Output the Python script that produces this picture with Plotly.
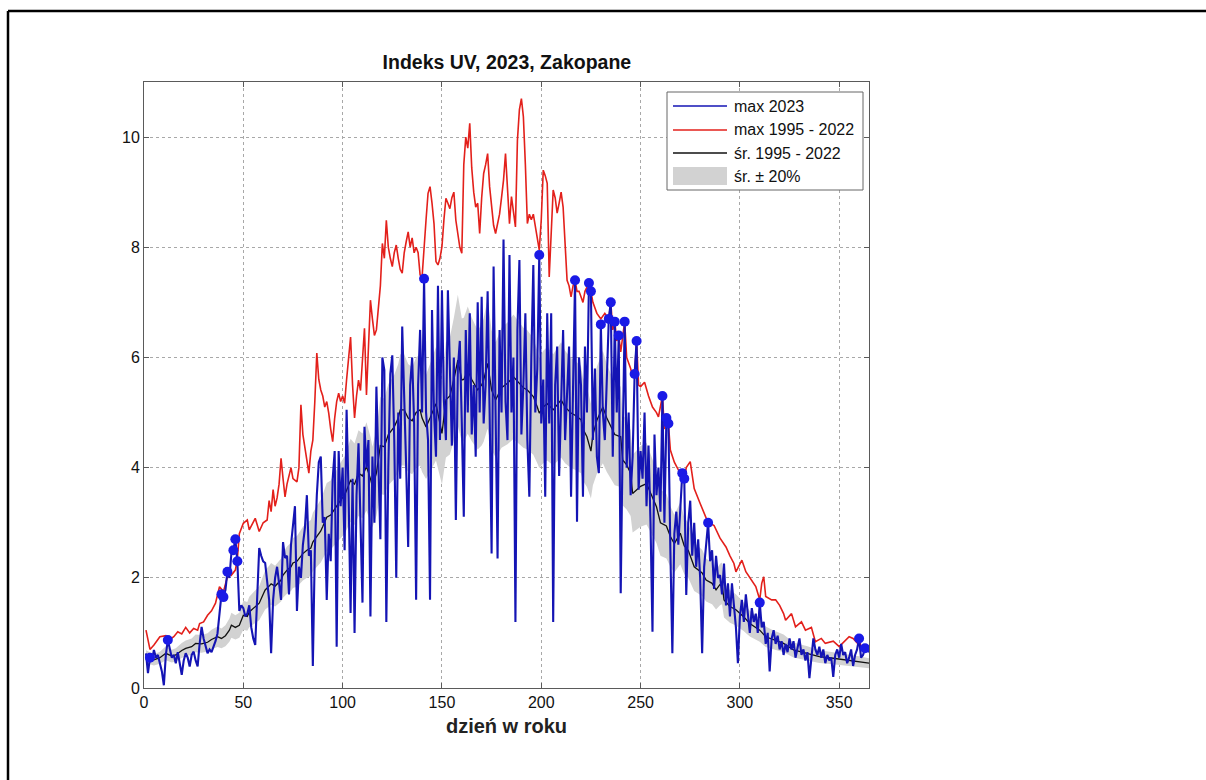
import plotly.graph_objects as go

# --- 2023 daily maximum UV index, days 1..365 ---
max2023 = [
    0.63, 0.27, 0.55, 0.5, 0.69, 0.55, 0.6, 0.45, 0.3, 0.05,
    0.6, 0.87, 0.7, 0.55, 0.6, 0.45, 0.65, 0.4, 0.24, 0.5,
    0.63, 0.55, 0.39, 0.6, 0.66, 0.5, 0.39, 0.8, 1.11, 0.9,
    0.75, 0.63, 0.7, 0.65, 0.75, 0.85, 0.99, 1.3, 1.7, 1.65,
    1.78, 2.11, 2.0, 2.45, 2.5, 2.7, 2.3, 1.4, 1.5, 1.45,
    1.3, 1.35, 1.5, 1.1, 0.9, 0.78, 1.8, 2.54, 2.4, 2.3,
    2.27, 1.9, 1.6, 0.63, 1.6, 2.0, 2.2, 1.9, 1.6, 2.65,
    2.36, 2.4, 1.7, 2.6, 3.0, 3.3, 1.4, 2.2, 2.0, 2.6,
    2.9, 3.5, 2.4, 2.5, 0.4, 2.5, 3.5, 4.1, 4.2, 3.0,
    3.1, 1.6, 2.8, 2.3, 3.8, 4.3, 0.75, 4.3, 3.3, 4.0,
    2.5, 5.05, 3.5, 1.36, 3.8, 1.0, 3.5, 4.44, 3.0, 1.55,
    4.74, 4.0, 4.5, 1.3, 4.2, 3.0, 5.47, 4.2, 2.7, 6.0,
    5.77, 1.2, 4.0, 5.7, 6.04, 4.5, 2.0, 5.0, 3.8, 6.56,
    5.0, 4.0, 2.56, 5.5, 6.0, 4.8, 1.6, 5.5, 6.5, 5.0,
    7.43, 5.0, 4.5, 1.6, 6.86, 5.0, 4.2, 7.3, 4.5, 7.22,
    5.2, 4.5, 7.22, 5.5, 4.4, 6.0, 3.05, 5.8, 6.3, 4.8,
    3.11, 6.5, 5.0, 6.8, 4.6, 5.5, 4.2, 7.0, 5.0, 7.1,
    4.8, 5.5, 7.2, 5.0, 2.44, 7.65, 4.8, 2.35, 6.5, 5.0,
    8.14, 5.2, 4.5, 7.86, 5.0, 6.0, 1.2, 6.5, 7.77, 4.6,
    5.5, 6.8, 4.5, 3.47, 6.0, 7.68, 5.0, 5.8, 7.86, 4.8,
    5.6, 3.47, 6.8, 4.8, 6.8, 1.2, 5.5, 6.2, 3.85, 5.0,
    6.5, 4.5, 5.5, 6.2, 3.47, 5.5, 7.4, 3.02, 6.0, 5.5,
    3.47, 6.2, 5.0, 7.35, 7.2, 4.5, 5.8, 4.2, 3.9, 6.6,
    5.0, 4.5, 5.6, 6.7, 7.0, 4.2, 6.65, 5.0, 6.4, 1.72,
    4.5, 6.65, 4.0, 5.0, 3.5, 4.2, 5.7, 6.3, 3.6, 4.3,
    3.8, 5.0, 3.3, 4.4, 3.0, 1.02, 4.6, 3.5, 4.0, 3.2,
    5.3, 3.0, 4.9, 4.8, 2.5, 0.63, 2.8, 3.2, 2.6, 3.3,
    3.9, 3.8, 1.69, 3.0, 3.4, 2.4, 3.0, 2.2, 2.7, 2.0,
    0.63, 2.2, 2.6, 3.0, 2.3, 2.5, 1.8, 2.4, 2.0, 2.05,
    1.7, 2.26, 1.5, 1.9, 1.3, 1.9, 1.5, 1.1, 0.45, 1.3,
    1.6, 1.2, 1.7, 1.4, 1.0, 1.45, 1.2, 1.35, 1.0, 1.55,
    1.1, 1.2, 0.8, 1.0, 0.3, 0.9, 1.05, 0.8, 0.95, 0.7,
    0.85, 0.6, 0.8, 0.65, 0.9, 0.7, 0.85, 0.55, 0.75, 0.9,
    0.6, 0.7, 0.5, 0.65, 0.18, 0.6, 0.9, 0.7, 0.6, 0.75,
    0.55, 0.7, 0.45, 0.6, 0.5, 0.55, 0.2, 0.6, 0.7, 0.55,
    0.8, 0.6, 0.65, 0.45, 0.55, 0.7, 0.4, 0.6, 0.7, 0.9,
    0.55, 0.6, 0.72, 0.7, 0.65,
]
days2023 = list(range(1, len(max2023) + 1))

# days of 2023 that reached or beat the 1995-2022 maximum
record_days = [3, 12, 39, 40, 42, 45, 46, 47, 141, 199, 217, 224, 225, 230,
               234, 235, 237, 239, 242, 247, 248, 261, 263, 264, 271, 272,
               284, 310, 360, 363]

# --- maximum 1995-2022 ---
max_hist_days = [
    1, 3, 5, 8, 11, 13, 15, 17, 19, 21, 23, 25, 27, 28, 30, 32, 34, 36, 38, 40,
    42, 43, 44, 46, 47, 48, 50, 52, 53, 56, 58, 60, 62, 63, 64, 65, 66, 67, 68, 69,
    70, 71, 72, 74, 75, 77, 78, 79, 80, 81, 82, 83, 84, 85, 86, 87, 88, 89, 90, 91,
    92, 93, 94, 95, 96, 97, 98, 99, 100, 101, 102, 103, 104, 105, 106, 107, 108, 109, 110, 111,
    112, 113, 114, 115, 116, 117, 118, 119, 120, 121, 122, 123, 124, 125, 126, 127, 128, 129, 130, 131,
    132, 133, 134, 135, 136, 137, 138, 139, 140, 141, 142, 143, 144, 145, 146, 147, 148, 149, 150, 151,
    152, 153, 154, 155, 156, 157, 158, 159, 160, 161, 162, 163, 164, 165, 166, 167, 168, 169, 170, 171,
    172, 173, 174, 175, 176, 177, 178, 179, 180, 181, 182, 183, 184, 185, 186, 187, 188, 189, 190, 191,
    192, 193, 194, 195, 196, 197, 198, 199, 200, 201, 202, 203, 204, 205, 206, 207, 208, 209, 210, 211,
    212, 213, 214, 215, 216, 217, 218, 219, 220, 221, 222, 224, 225, 226, 228, 230, 232, 234, 235, 236,
    237, 238, 239, 240, 242, 243, 244, 245, 246, 247, 248, 249, 250, 252, 254, 256, 258, 259, 261, 262,
    263, 264, 265, 267, 269, 271, 272, 273, 275, 277, 280, 282, 284, 285, 287, 290, 293, 295, 297, 298,
    301, 303, 306, 308, 310, 311, 312, 313, 316, 318, 320, 322, 323, 326, 328, 331, 333, 336, 338, 341,
    343, 347, 350, 353, 355, 357, 359, 360, 361, 363, 365,
]
max_hist = [
    1.05, 0.7, 0.78, 0.93, 0.95, 0.88, 0.93, 1.02, 0.98, 1.1, 1.0, 1.08, 1.05, 1.17, 1.2, 1.32, 1.4, 1.54, 1.84, 1.75,
    2.02, 2.1, 2.05, 2.14, 2.35, 2.8, 2.99, 3.05, 2.87, 3.08, 2.84, 3.0, 3.05, 3.4, 3.2, 3.6, 3.3, 3.45, 3.7, 4.17,
    3.8, 3.47, 3.7, 4.0, 3.8, 3.74, 4.0, 5.14, 4.6, 4.38, 4.2, 3.9, 4.3, 4.5, 5.2, 6.08, 5.6, 5.41, 5.3, 5.1,
    5.2, 4.99, 4.7, 4.47, 4.9, 5.2, 5.35, 5.2, 5.3, 5.17, 5.6, 6.0, 6.37, 5.5, 4.9, 5.3, 5.59, 5.4, 6.0, 6.53,
    5.32, 6.2, 7.04, 6.7, 6.4, 6.5, 6.86, 7.3, 8.07, 7.8, 8.49, 8.0, 7.8, 7.65, 7.9, 8.04, 7.8, 7.6, 7.53, 7.9,
    8.1, 8.28, 8.0, 8.17, 7.9, 8.0, 7.9, 7.5, 7.46, 7.9, 8.5, 8.98, 9.1, 8.8, 8.43, 7.74, 7.68, 7.8, 8.01, 8.5,
    8.89, 8.8, 8.7, 8.9, 9.0, 8.49, 8.2, 8.0, 7.89, 9.5, 10.0, 9.8, 10.25, 9.44, 9.0, 8.73, 8.8, 8.25, 8.9, 9.34,
    9.5, 9.7, 9.1, 8.8, 8.4, 8.25, 8.4, 8.6, 8.9, 9.22, 9.7, 9.0, 8.43, 8.92, 8.6, 8.37, 9.94, 10.5, 10.7, 10.37,
    9.5, 8.43, 8.6, 8.5, 8.6, 8.37, 8.2, 7.95, 8.5, 9.4, 9.3, 9.16, 7.46, 8.2, 9.04, 8.9, 8.62, 8.8, 9.0, 8.73,
    8.0, 7.4, 7.3, 7.1, 7.3, 7.4, 7.2, 7.2, 7.1, 7.0, 7.2, 7.35, 7.2, 7.0, 6.8, 6.7, 6.8, 6.7, 7.0, 6.5,
    6.65, 6.3, 6.4, 6.1, 6.65, 6.0, 5.9, 5.8, 5.65, 5.7, 6.3, 5.5, 5.47, 5.55, 5.3, 5.1, 5.0, 4.92, 5.3, 4.7,
    4.9, 4.8, 4.32, 4.1, 3.96, 3.9, 3.8, 4.0, 4.11, 3.62, 3.35, 3.17, 3.0, 2.99, 2.95, 2.72, 2.56, 2.4, 2.26, 2.11,
    2.32, 2.11, 1.96, 1.84, 1.6, 1.9, 2.02, 1.66, 1.6, 1.6, 1.5, 1.35, 1.23, 1.35, 1.11, 1.2, 1.05, 1.1, 0.84, 0.9,
    0.81, 0.85, 0.75, 0.86, 0.93, 0.9, 0.82, 0.9, 0.75, 0.72, 0.69,
]

# --- mean 1995-2022 ---
mean_days = [
    1, 5, 8, 11, 14, 16, 19, 21, 24, 26, 29, 32, 34, 37, 39, 41, 43, 44, 46, 48,
    50, 52, 53, 55, 58, 60, 61, 63, 64, 66, 69, 70, 72, 74, 75, 77, 80, 82, 84, 85,
    87, 89, 90, 92, 94, 96, 99, 101, 104, 106, 108, 110, 112, 114, 115, 117, 119, 121, 123, 126,
    128, 129, 131, 133, 135, 137, 139, 140, 142, 144, 147, 149, 150, 152, 154, 156, 158, 160, 161, 163,
    165, 168, 170, 171, 173, 175, 177, 178, 180, 183, 186, 189, 191, 193, 196, 198, 199, 201, 203, 206,
    208, 210, 212, 215, 217, 220, 221, 223, 225, 226, 228, 231, 233, 235, 237, 240, 241, 243, 245, 246,
    248, 250, 253, 255, 258, 260, 263, 265, 267, 270, 272, 274, 277, 281, 283, 286, 288, 290, 291, 292,
    295, 298, 302, 305, 308, 310, 313, 317, 322, 327, 334, 340, 347, 354, 360, 365,
]
mean_hist = [
    0.57, 0.51, 0.55, 0.63, 0.58, 0.6, 0.68, 0.72, 0.75, 0.81, 0.8, 0.83, 0.88, 0.93, 0.9, 0.95, 1.05, 1.14, 1.1, 1.14,
    1.32, 1.3, 1.38, 1.45, 1.54, 1.7, 1.78, 1.85, 1.89, 1.85, 1.96, 2.05, 2.14, 2.2, 2.27, 2.3, 2.44, 2.5, 2.54, 2.65,
    2.75, 2.85, 2.93, 3.1, 3.14, 3.25, 3.41, 3.5, 3.77, 3.7, 3.9, 3.85, 4.02, 3.8, 3.65, 3.9, 4.4, 4.38, 4.6, 4.74,
    4.9, 5.05, 5.05, 4.9, 4.85, 5.0, 5.05, 4.9, 4.74, 4.9, 5.16, 4.8, 4.62, 5.23, 5.3, 5.6, 5.95, 5.59, 5.6, 5.77,
    5.6, 5.41, 5.5, 5.59, 5.89, 5.41, 5.23, 5.3, 5.45, 5.53, 5.65, 5.53, 5.45, 5.41, 5.29, 5.1, 4.99, 5.1, 5.16, 5.05,
    5.15, 5.23, 5.1, 4.99, 4.95, 4.87, 4.7, 4.56, 4.3, 4.6, 4.86, 5.1, 4.9, 4.74, 4.6, 4.56, 4.14, 4.05, 3.9, 3.53,
    3.6, 3.66, 3.71, 3.53, 3.29, 3.0, 2.94, 2.75, 2.62, 2.81, 2.58, 2.5, 2.2, 2.09, 1.96, 1.9, 1.78, 1.88, 1.9, 1.6,
    1.48, 1.42, 1.29, 1.17, 1.1, 1.05, 0.93, 0.87, 0.81, 0.69, 0.63, 0.57, 0.54, 0.51, 0.48, 0.45,
]

# band: mean +/- 20 %
band_low = [v * 0.8 for v in mean_hist]
band_high = [v * 1.2 for v in mean_hist]

record_vals = [max2023[d - 1] for d in record_days]

legend_labels = ["max 2023", "max 1995 - 2022", "śr. 1995 - 2022", "śr. ± 20%"]

FONT = "Liberation Sans, Arial, sans-serif"
BLUE = "#1414b4"
RED = "#e3201b"
BLACK = "#111111"
GRAY = "#d2d2d2"

# plot area in pixels (left, right, top, bottom)
PL, PR, PT, PB = 144, 869, 82, 688


def px(x):
    return (x - PL) / (PR - PL)


def py(y):
    return (PB - y) / (PB - PT)


fig = go.Figure()

fig.add_trace(go.Scatter(
    x=mean_days, y=band_low, mode="lines", line=dict(width=0, color=GRAY),
    showlegend=False, hoverinfo="skip"))
fig.add_trace(go.Scatter(
    x=mean_days, y=band_high, mode="lines", line=dict(width=0, color=GRAY),
    fill="tonexty", fillcolor=GRAY, name=legend_labels[3], showlegend=False))
fig.add_trace(go.Scatter(
    x=max_hist_days, y=max_hist, mode="lines", line=dict(color=RED, width=1.6),
    name=legend_labels[1], showlegend=False))
fig.add_trace(go.Scatter(
    x=mean_days, y=mean_hist, mode="lines", line=dict(color=BLACK, width=1.3),
    name=legend_labels[2], showlegend=False))
fig.add_trace(go.Scatter(
    x=days2023, y=max2023, mode="lines", line=dict(color=BLUE, width=2.1),
    name=legend_labels[0], showlegend=False))
fig.add_trace(go.Scatter(
    x=record_days, y=record_vals, mode="markers",
    marker=dict(color="#1a1ae6", size=10, line=dict(width=0)),
    showlegend=False))

axis_common = dict(
    showline=True, linecolor="#5a5a5a", linewidth=1, mirror="ticks",
    ticks="inside", ticklen=5, tickcolor="#5a5a5a",
    showgrid=True, gridcolor="#a8a8a8", griddash="dot", gridwidth=1,
    zeroline=False, tickfont=dict(family=FONT, size=16, color="#111"),
)

# legend box, drawn in pixel positions
leg_x0, leg_x1, leg_y0, leg_y1 = 667, 863, 92, 190
row_y = [106, 130, 153, 176]
sample_x0, sample_x1, text_x = 673, 727, 732
sample_colors = [BLUE, RED, BLACK]

shapes = [
    # frame around the figure
    dict(type="line", xref="paper", yref="paper",
         x0=px(8), x1=px(1206), y0=py(11), y1=py(11),
         line=dict(color="black", width=2.5)),
    dict(type="line", xref="paper", yref="paper",
         x0=px(8), x1=px(8), y0=py(11), y1=py(780),
         line=dict(color="black", width=2.5)),
    dict(type="rect", xref="paper", yref="paper",
         x0=px(leg_x0), x1=px(leg_x1), y0=py(leg_y1), y1=py(leg_y0),
         line=dict(color="#666", width=1), fillcolor="white"),
]
for c, ry in zip(sample_colors, row_y[:3]):
    shapes.append(dict(type="line", xref="paper", yref="paper",
                       x0=px(sample_x0), x1=px(sample_x1), y0=py(ry), y1=py(ry),
                       line=dict(color=c, width=1.5)))
shapes.append(dict(type="rect", xref="paper", yref="paper",
                   x0=px(sample_x0), x1=px(sample_x1),
                   y0=py(row_y[3] + 9), y1=py(row_y[3] - 9),
                   line=dict(width=0), fillcolor=GRAY))

annotations = [
    dict(text=t, xref="paper", yref="paper", x=px(text_x), y=py(ry),
         xanchor="left", yanchor="middle", showarrow=False,
         font=dict(family=FONT, size=16, color="#111"))
    for t, ry in zip(legend_labels, row_y)
]

fig.update_layout(
    width=1206, height=780,
    margin=dict(l=PL, r=1206 - PR, t=PT, b=780 - PB),
    paper_bgcolor="white", plot_bgcolor="white",
    font=dict(family=FONT, color="#111"),
    title=dict(text="<b>Indeks UV, 2023, Zakopane</b>", x=0.4203, xanchor="center",
               y=1 - 62 / 780, yanchor="middle",
               font=dict(family=FONT, size=19.5, color="#111")),
    xaxis=dict(range=[0, 365], tickvals=[0, 50, 100, 150, 200, 250, 300, 350],
               title=dict(text="<b>dzień w roku</b>", standoff=8,
                          font=dict(family=FONT, size=20, color="#222")),
               **axis_common),
    yaxis=dict(range=[0, 11], tickvals=[0, 2, 4, 6, 8, 10], **axis_common),
    showlegend=False,
    shapes=shapes,
    annotations=annotations,
)

fig.write_html("out.html")
